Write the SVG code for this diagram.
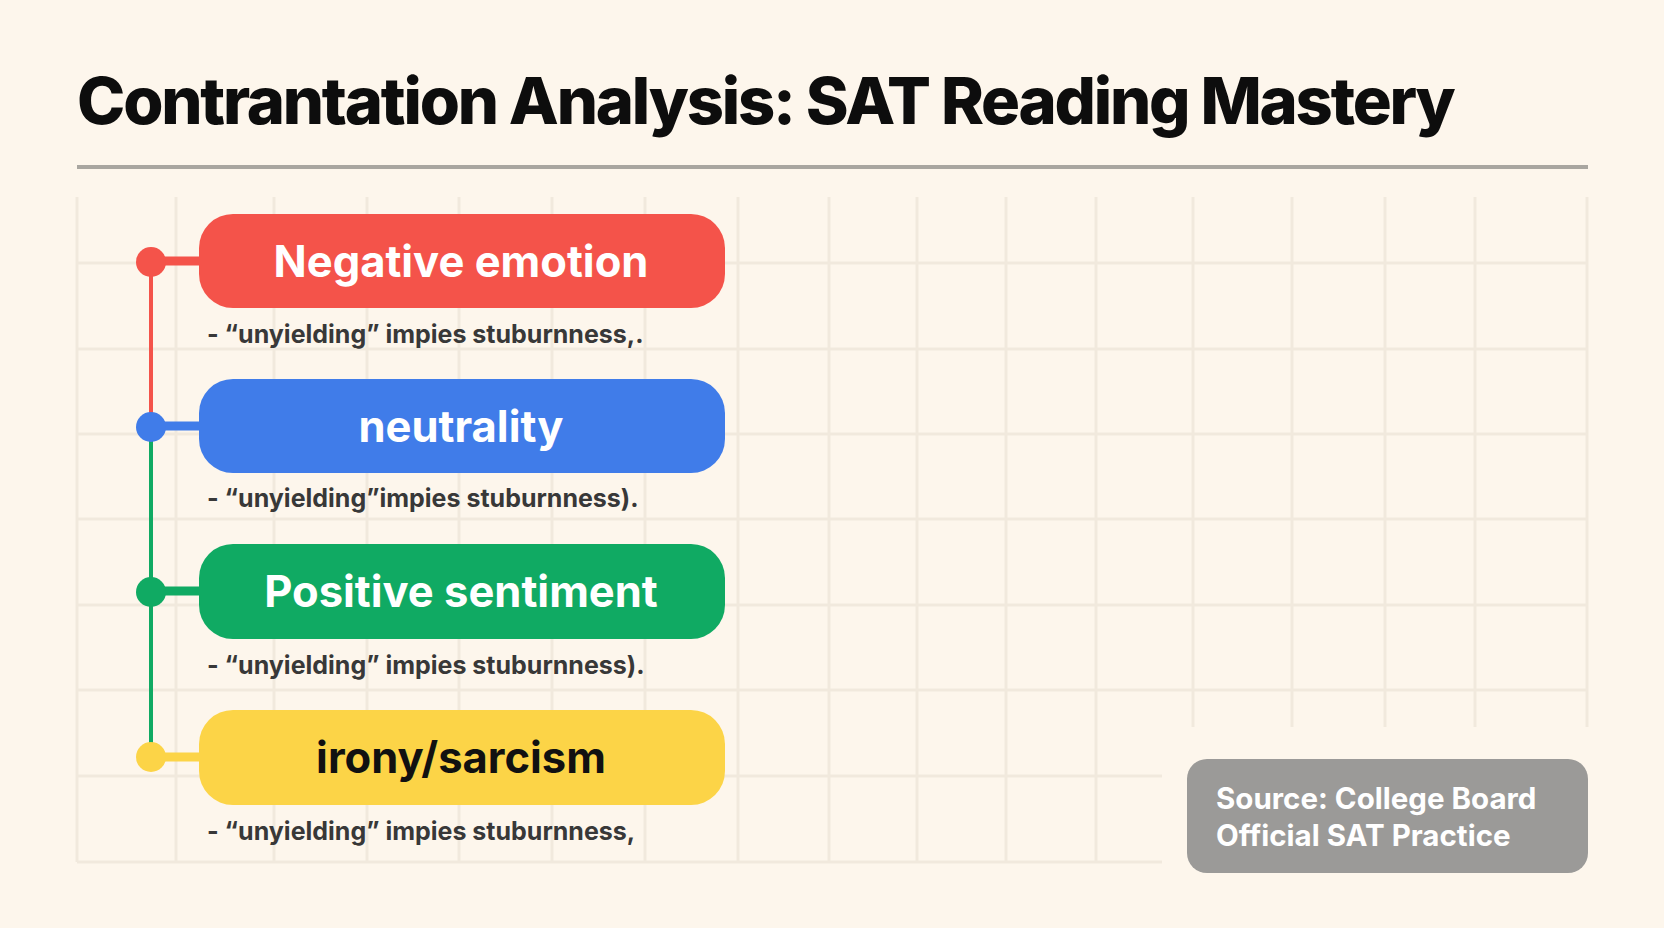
<svg xmlns="http://www.w3.org/2000/svg" width="1664" height="928" viewBox="0 0 1664 928">
  <defs>
    <style>
      .bg { fill: #fdf6ec; }
      .grid line { stroke: #f1e9dd; stroke-width: 3; }
      .title { font-family: Inter, "Liberation Sans", sans-serif; font-weight: 800; font-size: 65px; fill: #0d0d0d; letter-spacing: -2.2px; }
      .sep { stroke: #a9a6a0; stroke-width: 4; }
      .pill-label { font-family: Inter, "Liberation Sans", sans-serif; font-weight: 700; font-size: 43.5px; text-anchor: middle; fill: #ffffff; }
      .pill-label.dark { fill: #111111; }
      .sub { font-family: Inter, "Liberation Sans", sans-serif; font-weight: 650; font-size: 25px; fill: #383838; }
      .source { font-family: Inter, "Liberation Sans", sans-serif; font-weight: 700; font-size: 29.5px; fill: #ffffff; }
      .red { fill: #f4534a; }
      .blue { fill: #407ce9; }
      .green { fill: #10aa63; }
      .yellow { fill: #fcd447; }
    </style>
  </defs>

  <rect class="bg" x="0" y="0" width="1664" height="928"/>

  <!-- grid -->
  <g class="grid">
    <line x1="77" y1="197" x2="77" y2="862"/>
    <line x1="176" y1="197" x2="176" y2="862"/>
    <line x1="274" y1="197" x2="274" y2="862"/>
    <line x1="367" y1="197" x2="367" y2="862"/>
    <line x1="459" y1="197" x2="459" y2="862"/>
    <line x1="552" y1="197" x2="552" y2="862"/>
    <line x1="645" y1="197" x2="645" y2="862"/>
    <line x1="738" y1="197" x2="738" y2="862"/>
    <line x1="829" y1="197" x2="829" y2="862"/>
    <line x1="917" y1="197" x2="917" y2="862"/>
    <line x1="1006" y1="197" x2="1006" y2="862"/>
    <line x1="1096" y1="197" x2="1096" y2="862"/>
    <line x1="1193" y1="197" x2="1193" y2="727"/>
    <line x1="1292" y1="197" x2="1292" y2="727"/>
    <line x1="1385" y1="197" x2="1385" y2="727"/>
    <line x1="1475" y1="197" x2="1475" y2="727"/>
    <line x1="1587" y1="197" x2="1587" y2="727"/>
    <line x1="77" y1="263" x2="1587" y2="263"/>
    <line x1="77" y1="349" x2="1587" y2="349"/>
    <line x1="77" y1="434" x2="1587" y2="434"/>
    <line x1="77" y1="519" x2="1587" y2="519"/>
    <line x1="77" y1="605" x2="1587" y2="605"/>
    <line x1="77" y1="690" x2="1587" y2="690"/>
    <line x1="77" y1="776" x2="1162" y2="776"/>
    <line x1="77" y1="862" x2="1162" y2="862"/>
  </g>

  <!-- title -->
  <g id="title">
    <text class="title" x="77" y="124">Contrantation Analysis: SAT Reading Mastery</text>
    <line class="sep" x1="77" y1="167" x2="1588" y2="167"/>
  </g>

  <!-- connectors -->
  <g id="connectors">
    <line x1="151" y1="263" x2="151" y2="428" stroke="#f4534a" stroke-width="4"/>
    <line x1="151" y1="428" x2="151" y2="753" stroke="#10aa63" stroke-width="4"/>
    <line x1="151" y1="261" x2="202" y2="261" stroke="#f4534a" stroke-width="9"/>
    <line x1="151" y1="426" x2="202" y2="426" stroke="#407ce9" stroke-width="9"/>
    <line x1="151" y1="591" x2="202" y2="591" stroke="#10aa63" stroke-width="9"/>
    <line x1="151" y1="757" x2="202" y2="757" stroke="#fcd447" stroke-width="9"/>
    <circle class="red" cx="151" cy="262" r="15"/>
    <circle class="blue" cx="151" cy="427" r="15"/>
    <circle class="green" cx="151" cy="592" r="15"/>
    <circle class="yellow" cx="151" cy="757" r="15"/>
  </g>

  <!-- nodes -->
  <g id="node-negative">
    <rect class="red" x="199" y="214" width="526" height="94" rx="34"/>
    <text class="pill-label" x="461" y="277">Negative emotion</text>
    <text class="sub" x="207" y="343">- “unyielding” impies stuburnness,.</text>
  </g>
  <g id="node-neutrality">
    <rect class="blue" x="199" y="379" width="526" height="94" rx="34"/>
    <text class="pill-label" x="461" y="442">neutrality</text>
    <text class="sub" x="207" y="507">- “unyielding”impies stuburnness).</text>
  </g>
  <g id="node-positive">
    <rect class="green" x="199" y="544" width="526" height="95" rx="34"/>
    <text class="pill-label" x="461" y="607">Positive sentiment</text>
    <text class="sub" x="207" y="674">- “unyielding” impies stuburnness).</text>
  </g>
  <g id="node-irony">
    <rect class="yellow" x="199" y="710" width="526" height="95" rx="34"/>
    <text class="pill-label dark" x="461" y="773">irony/sarcism</text>
    <text class="sub" x="207" y="840">- “unyielding” impies stuburnness,</text>
  </g>

  <g id="source">
    <rect x="1187" y="759" width="401" height="114" rx="20" fill="#9b9a98"/>
    <text class="source" x="1216" y="809">Source: College Board</text>
    <text class="source" x="1216" y="846">Official SAT Practice</text>
  </g>
</svg>
